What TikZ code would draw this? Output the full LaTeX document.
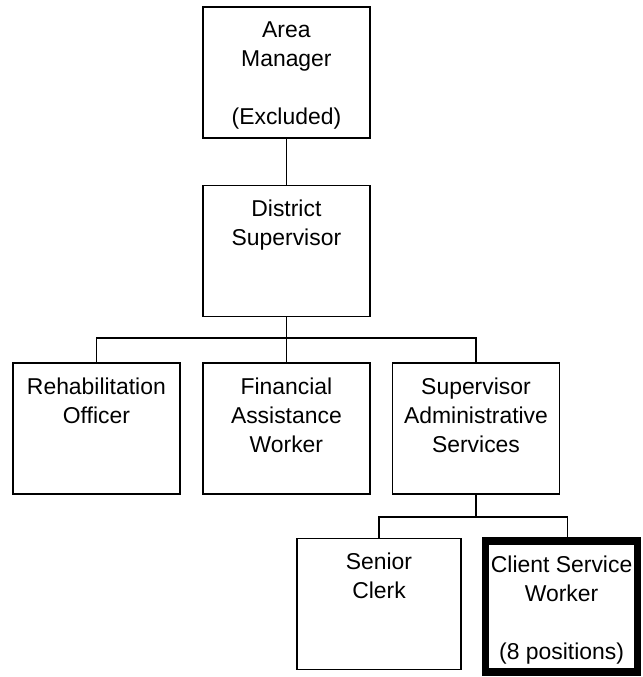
\documentclass[tikz,border=0pt]{standalone}
\usepackage{fontspec}
\setmainfont{Liberation Sans}
\newcommand{\postext}[2][4cm]{\parbox[t][2.535cm][t]{#1}{\centering #2}}
\begin{document}
\begin{tikzpicture}[every node/.style={font=\fontsize{16.3}{20.6}\selectfont},
  post/.style={draw, line width=1.1pt, inner xsep=0pt, inner ysep=0.37cm, minimum width=4.175cm},
  link/.style={line width=1.1pt}]
\useasboundingbox (0,0) rectangle (16.05,-16.925);
% management
\node[post] (area) at (7.16,-1.8125) {\postext{Area\\Manager\\[\baselineskip](Excluded)}};
\node[post] (dist) at (7.16,-6.275) {\postext{District\\Supervisor}};
% first row
\node[post] (rehab) at (2.41,-10.7125) {\postext{Rehabilitation\\Officer}};
\node[post] (fin) at (7.16,-10.7125) {\postext{Financial\\Assistance\\Worker}};
\node[post] (sup) at (11.9,-10.7125) {\postext{Supervisor\\Administrative\\Services}};
% second row
\node[post, minimum width=4.1cm] (clerk) at (9.475,-15.1) {\postext{Senior\\Clerk}};
\node[post, line width=5pt, minimum width=3.81cm] (csw) at (14.04,-15.1625) {\postext[3.75cm]{Client Service\\Worker\\[\baselineskip](8 positions)}};
\coordinate (j1) at (7.16,-8.45);
\coordinate (j2) at (11.9,-12.925);
\draw[link] (area) -- (dist);
\draw[link] (dist) -- (j1) -- (fin);
\draw[link] (j1) -| (rehab.north);
\draw[link] (j1) -| (sup.north);
\draw[link] (sup) -- (j2);
\draw[link] (j2) -| (clerk.north);
\draw[link] (j2) -| ([xshift=0.15cm]csw.north);
\end{tikzpicture}
\end{document}
